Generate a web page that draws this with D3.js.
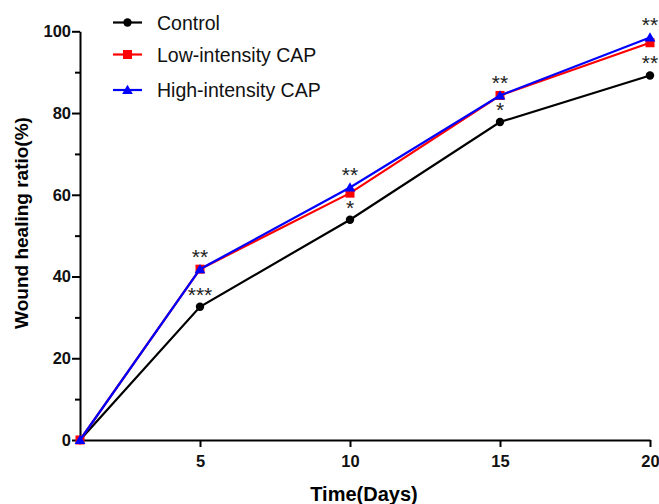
<!DOCTYPE html>
<html><head><meta charset="utf-8">
<script src="https://cdn.jsdelivr.net/npm/d3@7"></script>
<style>body{margin:0;background:#fff}svg{display:block}text{font-family:Arial,"Liberation Sans",sans-serif}</style>
</head><body><svg id="c" width="659" height="504"></svg>
<script>
const days = [1, 5, 10, 15, 20];
const control = [0, 32.6, 53.9, 77.8, 89.2];
const lowCAP = [0, 41.8, 60.4, 84.3, 97.2];
const highCAP = [0, 41.8, 61.8, 84.3, 98.5];
const seriesNames = ["Control", "Low-intensity CAP", "High-intensity CAP"];
const xTicks = [5, 10, 15, 20];
const yTicks = [0, 20, 40, 60, 80, 100];
const yMinorTicks = [10, 30, 50, 70, 90];
// significance marks: [day index, series index, label]
const marks = [
  [1, 1, "**"], [1, 0, "***"],
  [2, 2, "**"], [2, 0, "*"],
  [3, 2, "**"], [3, 0, "*"],
  [4, 2, "**"], [4, 0, "**"]
];

const svg = d3.select("#c");
const x = d3.scaleLinear().domain([1, 20]).range([80, 650]);
const y = d3.scaleLinear().domain([0, 100]).range([440, 31.3]);

const colors = ["#000000", "#ff0000", "#0000ff"];
const data = [control, lowCAP, highCAP];

// axes
svg.append("g").attr("transform", "translate(0,440)")
  .call(d3.axisBottom(x).tickValues(xTicks).tickSize(7).tickSizeOuter(0).tickPadding(8));
svg.append("g").attr("transform", "translate(80,0)")
  .call(d3.axisLeft(y).tickValues(yTicks).tickSize(8).tickSizeOuter(0).tickPadding(1));
svg.append("g").attr("transform", "translate(80,0)")
  .call(d3.axisLeft(y).tickValues(yMinorTicks).tickSize(5).tickFormat(""))
  .select(".domain").remove();
svg.selectAll(".domain, .tick line").attr("stroke", "#000").attr("stroke-width", 2);
svg.selectAll(".tick text").attr("font-size", 16.5).attr("font-weight", "bold").attr("fill", "#111");

// titles
svg.append("text").attr("x", 364).attr("y", 501).attr("text-anchor", "middle")
  .attr("font-size", 20).attr("font-weight", "bold").text("Time(Days)");
svg.append("text").attr("transform", "translate(28,223) rotate(-90)").attr("text-anchor", "middle")
  .attr("font-size", 19).attr("font-weight", "bold").text("Wound healing ratio(%)");

const line = d3.line().x((d, i) => x(days[i])).y(d => y(d));

function marker(g, k, cx, cy) {
  if (k === 0) g.append("circle").attr("cx", cx).attr("cy", cy).attr("r", 4.2).attr("fill", colors[k]);
  else if (k === 1) g.append("rect").attr("x", cx - 4.5).attr("y", cy - 4.5).attr("width", 9).attr("height", 9).attr("fill", colors[k]);
  else g.append("path").attr("d", d3.symbol(d3.symbolTriangle, 50)()).attr("transform", `translate(${cx},${cy + 1})`).attr("fill", colors[k]);
}

data.forEach((vals, k) => {
  const g = svg.append("g");
  g.append("path").datum(vals).attr("d", line).attr("fill", "none")
    .attr("stroke", colors[k]).attr("stroke-width", 2.2);
  vals.forEach((v, i) => marker(g, k, x(days[i]), y(v)));
});

// significance marks
marks.forEach(([i, k, label]) => {
  svg.append("text").attr("x", x(days[i])).attr("y", y(data[k][i]) - 5)
    .attr("text-anchor", "middle").attr("font-size", 21).attr("fill", "#222").text(label);
});

// legend
const legY = [22.5, 54.5, 90];
seriesNames.forEach((name, k) => {
  const g = svg.append("g");
  g.append("line").attr("x1", 113).attr("x2", 142).attr("y1", legY[k]).attr("y2", legY[k])
    .attr("stroke", colors[k]).attr("stroke-width", 2.2);
  marker(g, k, 127.5, legY[k]);
  g.append("text").attr("x", 157).attr("y", legY[k] + 7).attr("font-size", 19.5).attr("fill", "#111").text(name);
});
</script></body></html>
